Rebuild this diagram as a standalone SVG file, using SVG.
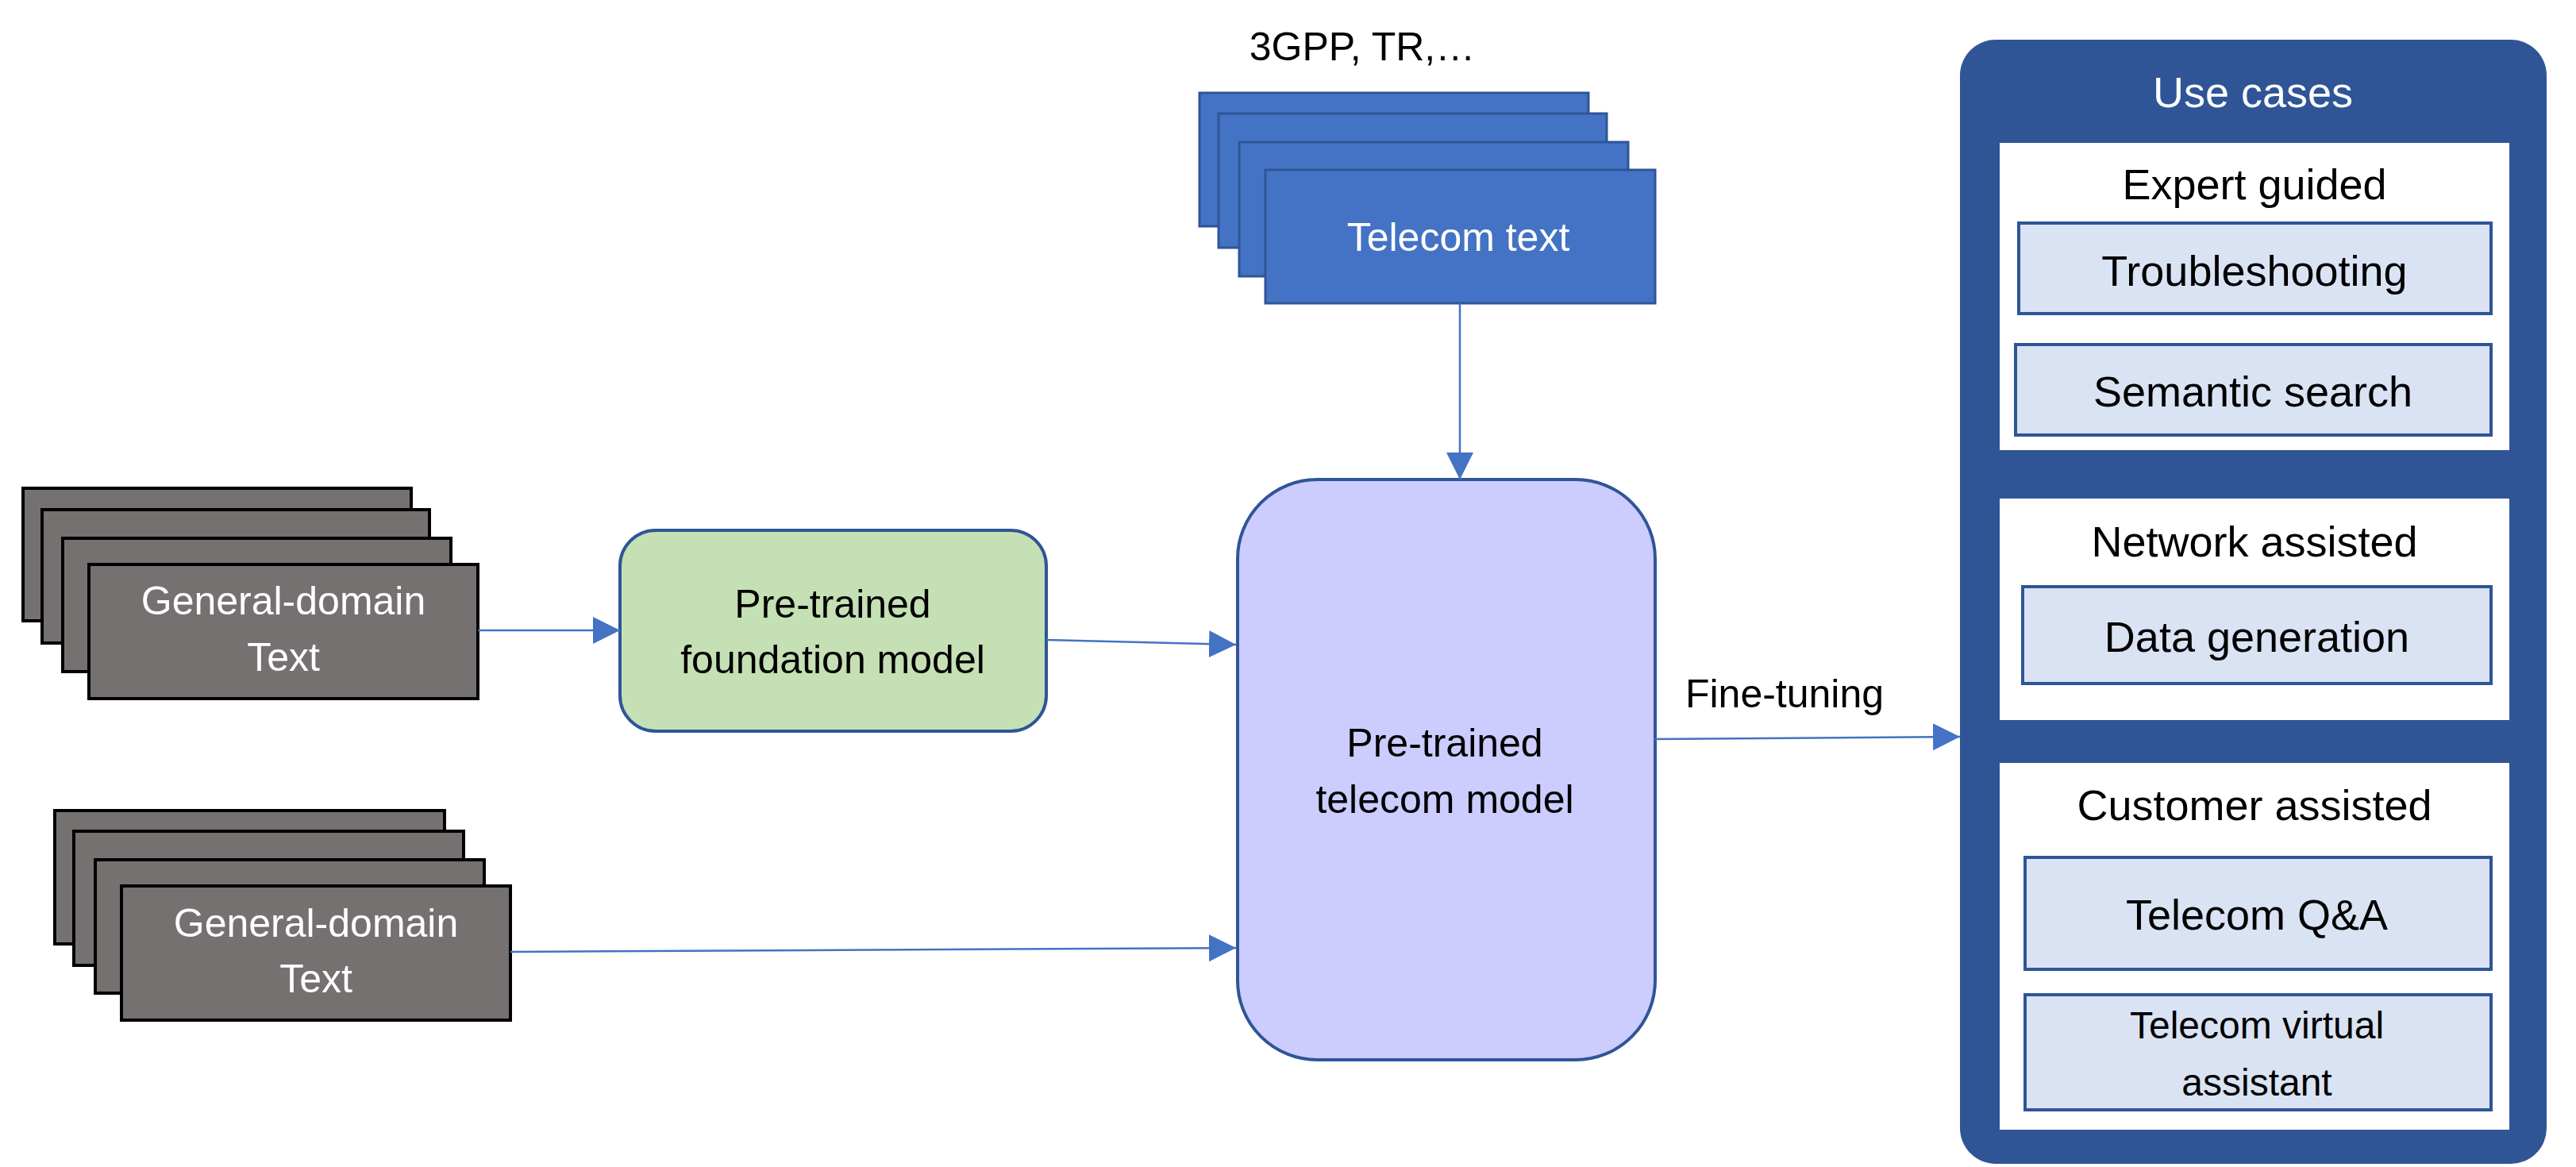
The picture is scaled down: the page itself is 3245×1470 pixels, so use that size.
<svg xmlns="http://www.w3.org/2000/svg" width="3245" height="1470" viewBox="0 0 3245 1470">
<style>
text{font-family:"Liberation Sans",Arial,sans-serif;text-anchor:middle}
.g{fill:#767171;stroke:#000;stroke-width:4}
.b{fill:#4472C4;stroke:#2F5597;stroke-width:3}
.w{fill:#fff}
.k{fill:#000}
.sub{fill:#DAE3F3;stroke:#2F5597;stroke-width:4}
.pan{fill:#fff}
.c{stroke:#4472C4;stroke-width:2.5;fill:none;marker-end:url(#ah)}
</style>
<defs>
<marker id="ah" viewBox="0 0 10 10" refX="10" refY="5" markerUnits="userSpaceOnUse" markerWidth="34" markerHeight="38" orient="auto"><path d="M0,0 L10,5 L0,10 Z" fill="#4472C4"/></marker>
</defs>
<g id="general1">
<rect class="g" x="29" y="615" width="489" height="167"/>
<rect class="g" x="53" y="642" width="488" height="168"/>
<rect class="g" x="79" y="678" width="489" height="168"/>
<rect class="g" x="112" y="711" width="490" height="169"/>
<text class="w" x="357" y="774" font-size="50">General-domain</text>
<text class="w" x="357" y="845" font-size="50">Text</text>
</g>
<g id="general2">
<rect class="g" x="69" y="1021" width="491" height="168"/>
<rect class="g" x="93" y="1047" width="491" height="169"/>
<rect class="g" x="120" y="1083" width="490" height="168"/>
<rect class="g" x="153" y="1116" width="490" height="169"/>
<text class="w" x="398" y="1180" font-size="50">General-domain</text>
<text class="w" x="398" y="1250" font-size="50">Text</text>
</g>
<g id="foundation">
<rect x="781" y="668" width="537" height="253" rx="45" fill="#C5E0B4" stroke="#2F5597" stroke-width="4"/>
<text class="k" x="1049" y="778" font-size="50">Pre-trained</text>
<text class="k" x="1049" y="848" font-size="50">foundation model</text>
</g>
<g id="telecomtext">
<text class="k" x="1716" y="76" font-size="50">3GPP, TR,…</text>
<rect class="b" x="1511" y="117" width="490" height="168"/>
<rect class="b" x="1535" y="143" width="489" height="169"/>
<rect class="b" x="1561" y="179" width="490" height="169"/>
<rect class="b" x="1594" y="214" width="491" height="168"/>
<text class="w" x="1837" y="316" font-size="50">Telecom text</text>
</g>
<g id="telecommodel">
<rect x="1559" y="604" width="526" height="731" rx="100" fill="#CCCCFF" stroke="#2F5597" stroke-width="4"/>
<text class="k" x="1820" y="953" font-size="50">Pre-trained</text>
<text class="k" x="1820" y="1024" font-size="50">telecom model</text>
</g>
<g id="usecases">
<rect x="2469" y="50" width="739" height="1416" rx="45" fill="#2F5597"/>
<text class="w" x="2838" y="135" font-size="54">Use cases</text>
<rect class="pan" x="2519" y="180" width="642" height="387"/>
<text class="k" x="2840" y="251" font-size="54">Expert guided</text>
<rect class="sub" x="2543" y="281" width="595" height="114"/>
<text class="k" x="2840" y="360" font-size="54">Troubleshooting</text>
<rect class="sub" x="2539" y="434" width="599" height="114"/>
<text class="k" x="2838" y="512" font-size="54">Semantic search</text>
<rect class="pan" x="2519" y="628" width="642" height="279"/>
<text class="k" x="2840" y="701" font-size="54">Network assisted</text>
<rect class="sub" x="2548" y="739" width="590" height="122"/>
<text class="k" x="2843" y="821" font-size="54">Data generation</text>
<rect class="pan" x="2519" y="961" width="642" height="462"/>
<text class="k" x="2840" y="1033" font-size="54">Customer assisted</text>
<rect class="sub" x="2551" y="1080" width="587" height="141"/>
<text class="k" x="2843" y="1171" font-size="54">Telecom Q&amp;A</text>
<rect class="sub" x="2551" y="1253" width="587" height="145"/>
<text class="k" x="2843" y="1308" font-size="48">Telecom virtual</text>
<text class="k" x="2843" y="1380" font-size="48">assistant</text>
</g>
<g id="connectors">
<line class="c" x1="602" y1="794" x2="781" y2="794"/>
<line class="c" x1="1318" y1="806" x2="1557" y2="812"/>
<line class="c" x1="643" y1="1199" x2="1557" y2="1194"/>
<line class="c" x1="1839" y1="382" x2="1839" y2="604"/>
<line class="c" x1="2085" y1="931" x2="2469" y2="928"/>
<text class="k" x="2248" y="891" font-size="50">Fine-tuning</text>
</g>
</svg>
